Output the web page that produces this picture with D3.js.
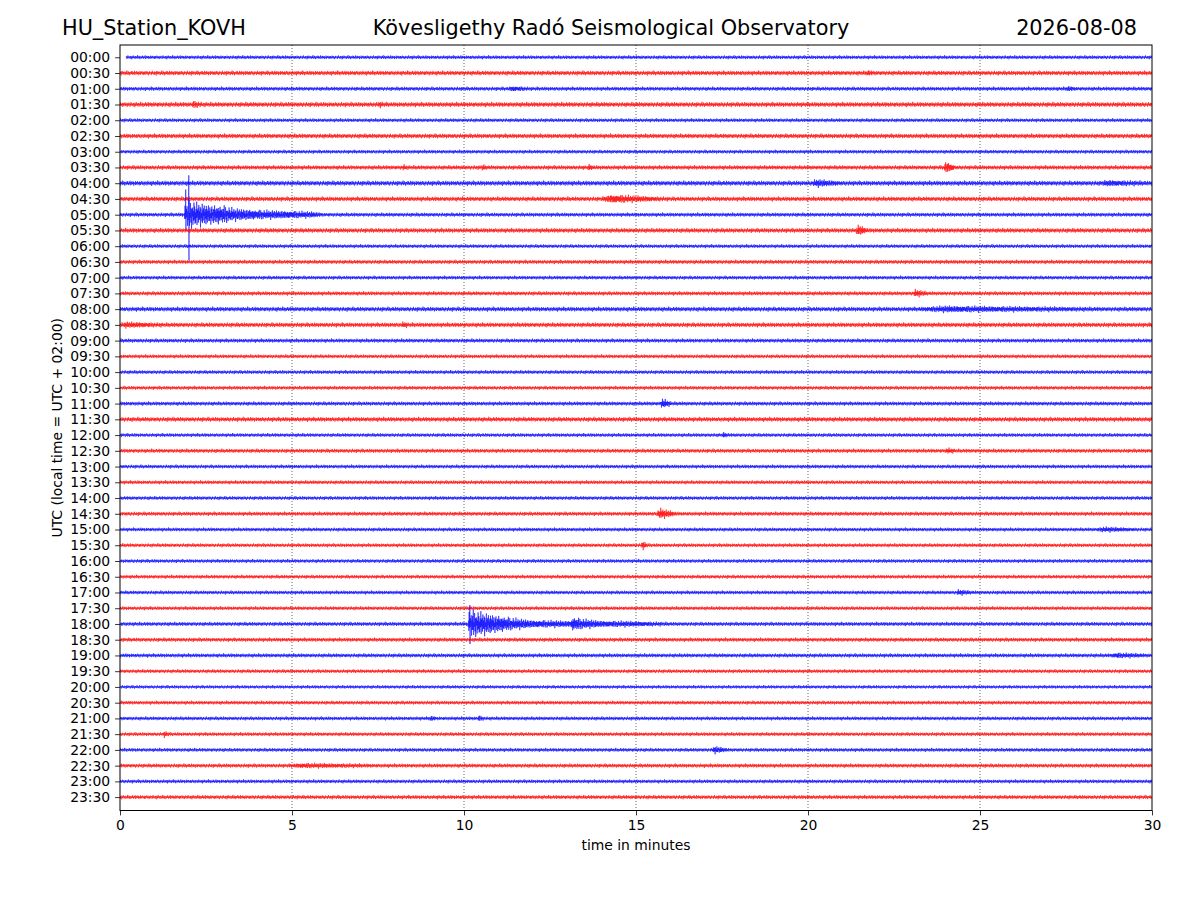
<!DOCTYPE html>
<html>
<head>
<meta charset="utf-8">
<script src="https://cdn.jsdelivr.net/npm/d3@7"></script>
<style>
  body { margin: 0; background: #fff; }
  svg { font-family: "DejaVu Sans", sans-serif; }
</style>
</head>
<body>
<div id="chart"></div>
<script>
// one helicorder row per half hour
var rowLabels = ["00:00","00:30","01:00","01:30","02:00","02:30","03:00","03:30",
  "04:00","04:30","05:00","05:30","06:00","06:30","07:00","07:30",
  "08:00","08:30","09:00","09:30","10:00","10:30","11:00","11:30",
  "12:00","12:30","13:00","13:30","14:00","14:30","15:00","15:30",
  "16:00","16:30","17:00","17:30","18:00","18:30","19:00","19:30",
  "20:00","20:30","21:00","21:30","22:00","22:30","23:00","23:30"];
var traceColors = ["#0000ff", "#ff0000"];
var xTicks = [0, 5, 10, 15, 20, 25, 30];
var gridMinutes = [5, 10, 15, 20, 25];

// background noise level of each row (in row spacings)
var noiseLevel = [0.13,0.16,0.14,0.17,0.13,0.16,0.13,0.15,
  0.17,0.16,0.14,0.16,0.13,0.14,0.13,0.14,
  0.16,0.16,0.14,0.13,0.13,0.13,0.14,0.16,
  0.13,0.14,0.13,0.13,0.13,0.14,0.13,0.13,
  0.13,0.13,0.13,0.13,0.14,0.14,0.14,0.13,
  0.12,0.13,0.13,0.13,0.13,0.14,0.13,0.14];

// hand-read wiggle shape reused along the traces (signs alternate)
var wiggle = [0.3,-0.5,0.7,-0.2,0.1,-0.8,0.4,-0.3,0.6,-0.6,0.2,-0.1,0.9,-0.4,0.3,-0.7,
  0.5,-0.2,0.0,-0.5,0.8,-0.3,0.4,-0.9,0.2,-0.4,0.6,-0.1,0.3,-0.6,0.7,-0.5,0.1,-0.3,
  1.0,-0.7,0.4,-0.2,0.5,-0.8,0.2,-0.4,0.6,-0.3,0.1,-0.6,0.8,-0.2,0.3,-0.5,0.4,-1.0,
  0.7,-0.1,0.2,-0.7,0.5,-0.4,0.9,-0.3,0.1,-0.5,0.6,-0.2,0.4,-0.8,0.3,-0.6,0.7,-0.1,
  0.5,-0.4,0.2,-0.9,0.8,-0.3,0.1,-0.5,0.6,-0.7,0.3,-0.2,0.4,-0.6,0.9,-0.4,0.2,-0.1,
  0.5,-0.8,0.7,-0.3,0.4,-0.5,0.1,-0.7,0.6,-0.2,0.3,-0.4,0.8,-0.6];

// envelopes of the two larger quakes: [minute, amplitude]
var quake0500 = [[1.87,0],[1.9,1.0],[1.97,0.8],[2.05,0.9],[2.25,0.78],[2.6,0.65],[3.0,0.55],
  [3.3,0.38],[4.05,0.24],[4.85,0.18],[5.6,0.12],[5.9,0]];
var quake1800 = [[10.11,0],[10.15,0.9],[10.4,0.8],[10.75,0.65],[11.35,0.36],[12.0,0.18],
  [13.1,0.12],[13.17,0.42],[13.4,0.28],[13.95,0.14],[15.0,0.09],[16.0,0]];
var quakeRows = [10, 36];
var quakeEnvelopes = [quake0500, quake1800];

// small events and bursts of noise: [row, start minute, end minute, amplitude]
var smallEvents = [
  [7, 23.95, 24.3, 0.36], [8, 20.1, 21.0, 0.16], [9, 14.0, 15.9, 0.2],
  [11, 21.4, 21.75, 0.3], [15, 23.05, 23.5, 0.18], [16, 23.2, 28.6, 0.12],
  [22, 15.7, 16.05, 0.28], [24, 17.5, 17.7, 0.12], [29, 15.6, 16.2, 0.3],
  [31, 15.15, 15.35, 0.25], [34, 24.3, 24.8, 0.12], [44, 17.2, 17.7, 0.18],
  [3, 2.1, 2.4, 0.14], [17, 0.0, 1.3, 0.1], [43, 1.25, 1.45, 0.14],
  [7, 8.2, 8.35, 0.12], [7, 10.5, 10.7, 0.1], [7, 13.6, 13.8, 0.12],
  [3, 7.5, 7.7, 0.1], [1, 21.7, 21.9, 0.1], [2, 11.3, 11.9, 0.1],
  [17, 8.2, 8.4, 0.12], [8, 28.5, 29.9, 0.1], [30, 28.4, 29.6, 0.1],
  [38, 28.8, 29.9, 0.1], [45, 4.9, 7.6, 0.08], [42, 9.0, 9.2, 0.12],
  [42, 10.4, 10.6, 0.12], [2, 27.5, 27.8, 0.1], [25, 24.0, 24.3, 0.12]
];
// single sharp spikes: [row, minute, up, down]
var spikes = [[10, 1.91, 1.6, 1.0], [10, 2.0, 2.5, 2.9], [36, 10.17, 1.2, 1.27]];

var firstRowStart = 0.17;
var step = 0.01;

var width = 1200, height = 900;
var margin = {left: 120, right: 48, top: 45, bottom: 89.5};

var svg = d3.select("#chart").append("svg")
  .attr("width", width).attr("height", height);

var x = d3.scaleLinear().domain([0, 30]).range([margin.left, width - margin.right]);
var y = d3.scaleLinear().domain([-0.78, 47.85]).range([margin.top, height - margin.bottom]);

svg.append("clipPath").attr("id", "plotclip").append("rect")
  .attr("x", margin.left).attr("y", margin.top)
  .attr("width", width - margin.left - margin.right)
  .attr("height", height - margin.top - margin.bottom);

// dotted vertical grid
svg.append("g").selectAll("line")
  .data(gridMinutes).enter().append("line")
  .attr("x1", function(d) { return x(d); }).attr("x2", function(d) { return x(d); })
  .attr("y1", margin.top).attr("y2", height - margin.bottom)
  .attr("stroke", "#000").attr("stroke-width", 0.6)
  .attr("stroke-dasharray", "1,2");

function envelopeAt(knots, t) {
  if (t <= knots[0][0] || t >= knots[knots.length - 1][0]) return 0;
  for (var k = 1; k < knots.length; k++) {
    if (t <= knots[k][0]) {
      var a = knots[k - 1], b = knots[k];
      return a[1] + (b[1] - a[1]) * (t - a[0]) / (b[0] - a[0]);
    }
  }
  return 0;
}

function smallAt(ev, t) {
  if (t < ev[1] || t > ev[2]) return 0;
  var peak = ev[1] + (ev[2] - ev[1]) * 0.15;
  return t < peak ? ev[3] * (t - ev[1]) / (peak - ev[1]) : ev[3] * (ev[2] - t) / (ev[2] - peak);
}

function traceFor(row) {
  var n = wiggle.length;
  var off = row * 31;
  var pts = [];
  var start = row === 0 ? firstRowStart : 0;
  var nSamples = Math.round(30 / step);
  var qi = quakeRows.indexOf(row);
  var evs = smallEvents.filter(function(e) { return e[0] === row; });
  var sp = spikes.filter(function(s) { return s[0] === row; });
  for (var i = Math.round(start / step); i <= nSamples; i++) {
    var t = i * step;
    var v = wiggle[(i + off) % n] * noiseLevel[row];
    var env = 0;
    if (qi >= 0) env += envelopeAt(quakeEnvelopes[qi], t);
    evs.forEach(function(e) { env += smallAt(e, t); });
    v += wiggle[(i + off + 50) % n] * env;
    var spikeHit = false;
    sp.forEach(function(s) {
      var si = Math.round(s[1] / step);
      if (i === si) { pts.push([t, -s[2]]); pts.push([t + step / 2, s[3]]); spikeHit = true; }
    });
    if (!spikeHit) pts.push([t, v]);
  }
  return pts;
}

var plot = svg.append("g").attr("clip-path", "url(#plotclip)");

rowLabels.forEach(function(lbl, row) {
  var line = d3.line()
    .x(function(d) { return x(d[0]); })
    .y(function(d) { return y(row + d[1]); });
  plot.append("path")
    .datum(traceFor(row))
    .attr("d", line)
    .attr("fill", "none")
    .attr("stroke", traceColors[row % 2])
    .attr("stroke-width", 0.55);
});

// axes
var xAxis = d3.axisBottom(x).tickValues(xTicks).tickSize(4.9).tickPadding(4.9)
  .tickFormat(d3.format("d"));
var gx = svg.append("g").attr("transform", "translate(0," + (height - margin.bottom) + ")").call(xAxis);

var yAxis = d3.axisLeft(y).tickValues(d3.range(rowLabels.length)).tickSize(4.9).tickPadding(4.9)
  .tickFormat(function(d) { return rowLabels[d]; });
var gy = svg.append("g").attr("transform", "translate(" + margin.left + ",0)").call(yAxis);

[gx, gy].forEach(function(g) {
  g.select(".domain").remove();
  g.selectAll("line").attr("stroke", "#000").attr("stroke-width", 0.8);
  g.selectAll("text").attr("font-size", "13.9px").attr("fill", "#000")
    .attr("font-family", "DejaVu Sans");
});

svg.append("rect")
  .attr("x", margin.left).attr("y", margin.top)
  .attr("width", width - margin.left - margin.right)
  .attr("height", height - margin.top - margin.bottom)
  .attr("fill", "none").attr("stroke", "#000").attr("stroke-width", 1);

// labels
svg.append("text").attr("x", (x(0) + x(30)) / 2).attr("y", 850)
  .attr("text-anchor", "middle").attr("font-size", "13.9px").text("time in minutes");

svg.append("text")
  .attr("transform", "translate(62," + ((margin.top + height - margin.bottom) / 2) + ") rotate(-90)")
  .attr("text-anchor", "middle").attr("font-size", "13.9px")
  .text("UTC (local time = UTC + 02:00)");

svg.append("text").attr("x", 62).attr("y", 35).attr("font-size", "20.8px")
  .text("HU_Station_KOVH");
svg.append("text").attr("x", 611).attr("y", 35).attr("text-anchor", "middle")
  .attr("font-size", "20.8px").text("Kövesligethy Radó Seismological Observatory");
svg.append("text").attr("x", 1137).attr("y", 35).attr("text-anchor", "end")
  .attr("font-size", "20.8px").text("2026-08-08");
</script>
</body>
</html>
